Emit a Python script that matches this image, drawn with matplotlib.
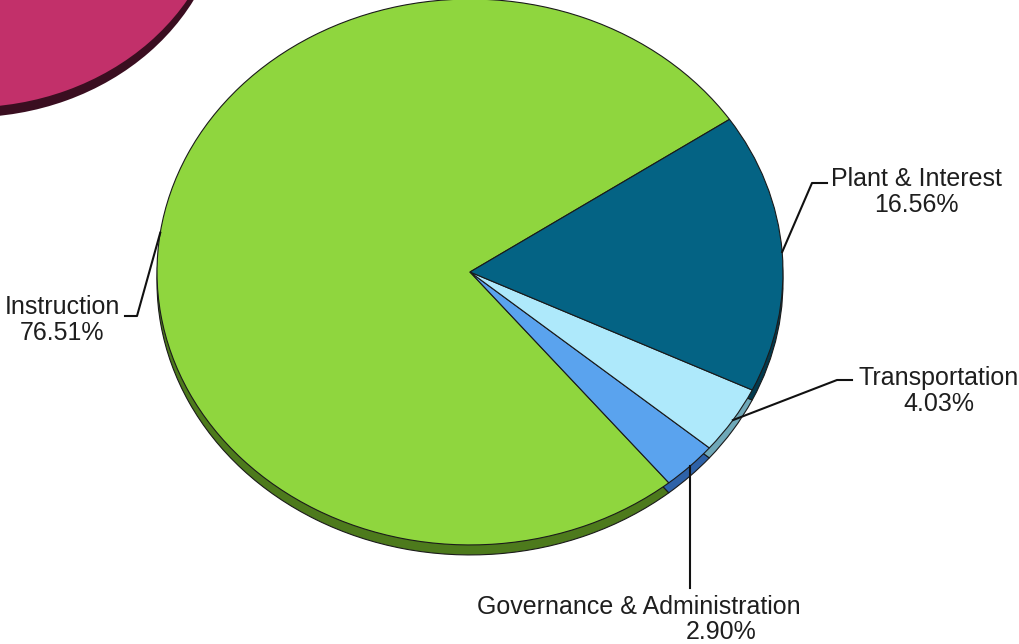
import matplotlib.pyplot as plt
import numpy as np

# slices (counter-clockwise from startangle)
labels = ['Instruction', 'Governance & Administration', 'Transportation', 'Plant & Interest']
values = [76.51, 2.90, 4.03, 16.56]
colors = ['#8fd63e', '#5aa3ee', '#aee9fb', '#046384']
side_colors = ['#4d7a1c', '#2e62a8', '#6fa8b8', '#023a4e']

W, H = 1020, 644
K = 0.872          # vertical squash of the tilted pie
depth = 10          # pixel thickness of the pie side

def px(x, y):
    # pixel coords (origin top-left) -> data coords
    return x, (H - y) / K

fig = plt.figure(figsize=(W / 100, H / 100), dpi=100)
ax = fig.add_axes([0, 0, 1, 1])

# cut-off neighbour pie in the corner
mc = px(-31, -115)
ax.pie([1], colors=['#3a0e20'], radius=255, center=(mc[0], mc[1] - depth / K),
       startangle=0, frame=True, wedgeprops=dict(linewidth=0))
ax.pie([1], colors=['#c2306a'], radius=255, center=mc,
       startangle=0, frame=True, wedgeprops=dict(linewidth=0))

# main pie: side first, then top
cx, cy = px(470, 272)
R = 313
ax.pie(values, colors=side_colors, radius=R, center=(cx, cy - depth / K),
       startangle=34, frame=True,
       wedgeprops=dict(edgecolor='#1a1a1a', linewidth=0.8))
wedges, _ = ax.pie(values, colors=colors, radius=R, center=(cx, cy),
                   startangle=34, frame=True,
                   wedgeprops=dict(edgecolor='#1a1a1a', linewidth=0.8))

def anchor(w):
    a = np.deg2rad((w.theta1 + w.theta2) / 2)
    return cx + R * np.cos(a), cy + R * np.sin(a)

font = dict(family='Liberation Sans', size=18, color='#1e1e1e')

# Instruction
x0, y0 = anchor(wedges[0])
p1, p2 = px(137, 316), px(125, 316)
ax.plot([x0, p1[0], p2[0]], [y0, p1[1], p2[1]], color='#111111', lw=1.5)
ax.text(*px(62, 320), 'Instruction\n76.51%', ha='center', va='center',
        linespacing=1.15, **font)

# Governance & Administration
x0, y0 = anchor(wedges[1])
p1 = px(686, 588)
ax.plot([x0, x0], [y0, p1[1]], color='#111111', lw=1.5)
ax.text(*px(639, 607), 'Governance & Administration', ha='center', va='center', **font)
ax.text(*px(721, 632), '2.90%', ha='center', va='center', **font)

# Transportation
x0, y0 = anchor(wedges[2])
p1, p2 = px(837, 380), px(852, 380)
ax.plot([x0, p1[0], p2[0]], [y0, p1[1], p2[1]], color='#111111', lw=1.5)
ax.text(*px(939, 391), 'Transportation\n4.03%', ha='center', va='center',
        linespacing=1.15, **font)

# Plant & Interest
x0, y0 = anchor(wedges[3])
p1, p2 = px(812, 183), px(827, 183)
ax.plot([x0, p1[0], p2[0]], [y0, p1[1], p2[1]], color='#111111', lw=1.5)
ax.text(*px(916, 192), 'Plant & Interest\n16.56%', ha='center', va='center',
        linespacing=1.15, **font)

ax.set_xlim(0, W)
ax.set_ylim(0, H / K)
ax.set_aspect('auto')
ax.axis('off')

fig.savefig('out.png', dpi=100, facecolor='white')
